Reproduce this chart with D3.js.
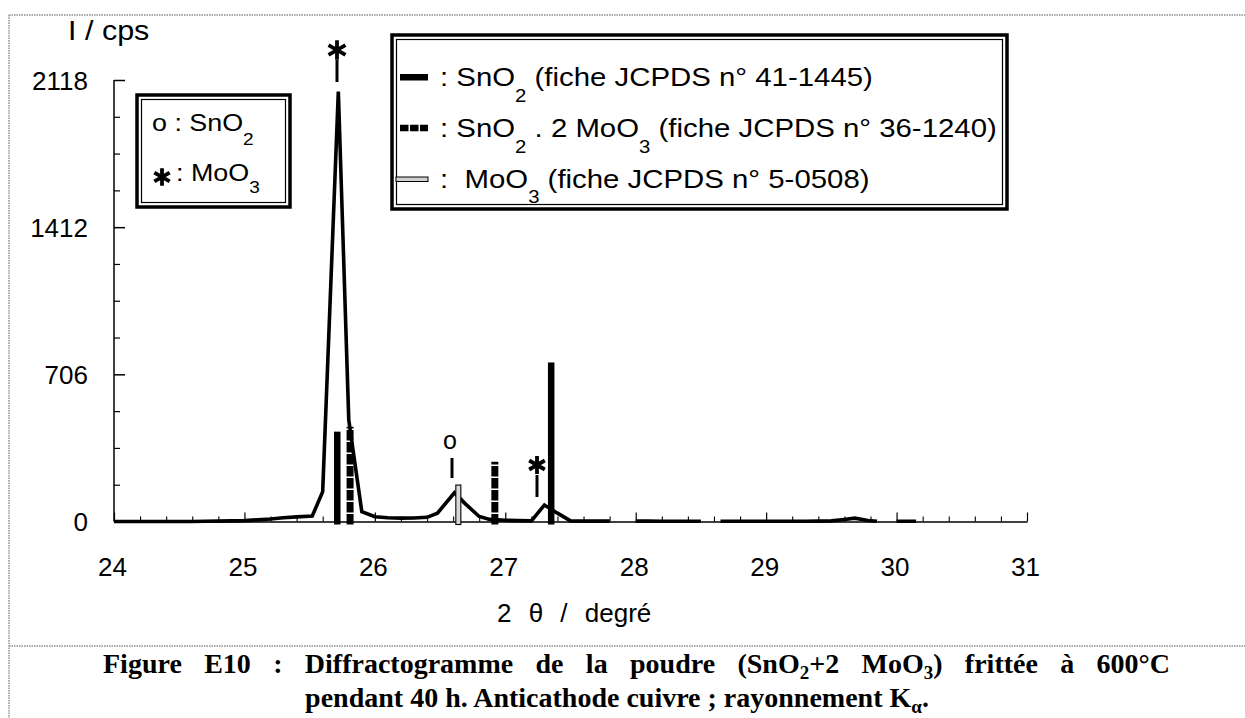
<!DOCTYPE html>
<html>
<head>
<meta charset="utf-8">
<script src="https://cdn.jsdelivr.net/npm/d3@7"></script>
<style>
html,body{margin:0;padding:0;background:#fff;}
svg{display:block;}
svg text{white-space:pre;}
</style>
</head>
<body>
<svg id="chart" width="1245" height="718"></svg>
<script>
// ---- data ----
const twoTheta = [24.0,24.1,24.2,24.3,24.4,24.5,24.6,24.7,24.8,24.9,25.0,25.1,25.2,25.3,25.4,25.52,25.6,25.72,25.8,25.9,26.0,26.1,26.2,26.3,26.4,26.48,26.61,26.69,26.8,26.88,27.0,27.1,27.2,27.3,27.4,27.5,27.6,27.7,27.8,27.9,28.0,28.1,28.2,28.3,28.4,28.5,28.6,28.65,28.8,28.9,29.0,29.1,29.2,29.3,29.4,29.5,29.6,29.68,29.78,29.85,29.9,30.0,30.1,30.15];
const intensity = [0,0,0,0,0,0,0,1,2,3,4,8,12,18,22,26,143,2063,487,47,23,18,16,17,20,40,138,87,24,10,6,4,3,79,40,3,2,2,2,null,2,2,1,1,1,1,null,1,1,1,1,1,1,1,2,3,10,16,5,1,null,1,1,1];

const snoPos = [25.71, 27.35], snoInt = [431, 763];          // SnO2 JCPDS 41-1445
const smPos  = [25.81, 26.92], smInt  = [455, 287];          // SnO2.2MoO3 JCPDS 36-1240
const mooPos = [26.64],        mooInt = [175];               // MoO3 JCPDS 5-0508

const yMajor = [0, 706, 1412, 2118];
const yMinor = [176.5, 353, 529.5, 882.5, 1059, 1235.5, 1588.5, 1765, 1941.5];
const xMajor = [24, 25, 26, 27, 28, 29, 30, 31];

// ---- layout ----
const svg = d3.select("#chart");
const x = d3.scaleLinear().domain([24, 31]).range([114, 1027]);
const y = d3.scaleLinear().domain([0, 2118]).range([521.5, 80]);
const SANS = "'Liberation Sans', Arial, sans-serif";
const SERIF = "'Liberation Serif', 'Times New Roman', serif";

// outer frame (dotted, scanned)
const frame = svg.append("g").attr("stroke", "#8a8a8a").attr("stroke-width", 1.4)
  .attr("stroke-dasharray", "1.5,1").attr("fill", "none");
frame.append("line").attr("x1", 9).attr("y1", 15).attr("x2", 1245).attr("y2", 15);
frame.append("line").attr("x1", 9).attr("y1", 15).attr("x2", 9).attr("y2", 718);
frame.append("line").attr("x1", 9).attr("y1", 646).attr("x2", 1245).attr("y2", 646);

// y axis
const yAxis = d3.axisLeft(y).tickValues(yMajor).tickSize(-11).tickPadding(26).tickFormat(d3.format("d"));
const gy = svg.append("g").attr("transform", "translate(114,0)").call(yAxis);
gy.select(".domain").attr("stroke-width", 1.5).attr("d", `M0,${y(2118)}V${y(0)}`);
gy.selectAll(".tick line").attr("stroke-width", 1.5);
gy.selectAll("text").attr("font-family", SANS).attr("font-size", 26).attr("fill", "#000").attr("dy", "0.36em");
const gy2 = svg.append("g").attr("transform", "translate(114,0)")
  .call(d3.axisLeft(y).tickValues(yMinor).tickSize(-6).tickFormat(""));
gy2.select(".domain").remove();
gy2.selectAll(".tick line").attr("stroke-width", 1.2);
gy2.selectAll(".tick text").remove();

// x axis
const xMinor = d3.range(24, 31.001, 0.2).filter(v => Math.abs(v - Math.round(v)) > 0.01);
const gx = svg.append("g").attr("transform", `translate(0,${y(0)})`)
  .call(d3.axisBottom(x).tickValues(xMajor).tickSize(-9).tickSizeOuter(0).tickPadding(36).tickFormat(d3.format("d")));
gx.select(".domain").attr("stroke-width", 1.5);
gx.selectAll(".tick line").attr("stroke-width", 1.2);
gx.selectAll("text").attr("font-family", SANS).attr("font-size", 26).attr("fill", "#000").attr("dx", "-2");
const gx2 = svg.append("g").attr("transform", `translate(0,${y(0)})`)
  .call(d3.axisBottom(x).tickValues(xMinor).tickSize(-5).tickFormat(""));
gx2.select(".domain").remove();
gx2.selectAll(".tick line").attr("stroke-width", 1.1);
gx2.selectAll(".tick text").remove();

// axis titles
svg.append("text").attr("transform", "translate(68,40) scale(1.09,1)")
  .attr("font-family", SANS).attr("font-size", 28).text("I / cps");
svg.append("text").attr("x", 497).attr("y", 622).attr("font-family", SANS).attr("font-size", 26)
  .attr("word-spacing", 10).text("2 θ / degré");

// diffractogram
const pts = twoTheta.map((t, i) => [t, intensity[i]]);
svg.append("path").datum(pts)
  .attr("fill", "none").attr("stroke", "#000").attr("stroke-width", 3.6).attr("stroke-linejoin", "miter")
  .attr("d", d3.line().defined(d => d[1] !== null).x(d => x(d[0])).y(d => y(d[1]))(pts));

// reference sticks
const base = y(0) + 3;
svg.append("g").selectAll("rect").data(snoPos).join("rect")
  .attr("x", d => x(d) - 3).attr("width", 6.5)
  .attr("y", (d, i) => y(snoInt[i])).attr("height", (d, i) => base - y(snoInt[i]))
  .attr("fill", "#000");
svg.append("g").selectAll("line").data(smPos).join("line")
  .attr("x1", d => x(d)).attr("x2", d => x(d))
  .attr("y1", base).attr("y2", (d, i) => y(smInt[i]))
  .attr("stroke", "#000").attr("stroke-width", 7).attr("stroke-dasharray", "10.5,1.5");
svg.append("g").selectAll("rect").data(mooPos).join("rect")
  .attr("x", d => x(d) - 2.5).attr("width", 5)
  .attr("y", (d, i) => y(mooInt[i])).attr("height", (d, i) => base - y(mooInt[i]))
  .attr("fill", "#d8d8d8").attr("stroke", "#000").attr("stroke-width", 1.1);

// peak markers
function starAt(cx, cy, s) {
  svg.append("path").attr("d", d3.symbol().type(d3.symbolAsterisk).size(s || 270)())
    .attr("transform", `translate(${cx},${cy})`).attr("stroke", "#000").attr("stroke-width", 3.8).attr("fill", "none");
}
function tick(cx, y1, y2) {
  svg.append("line").attr("x1", cx).attr("x2", cx).attr("y1", y1).attr("y2", y2)
    .attr("stroke", "#000").attr("stroke-width", 3);
}
starAt(337, 50); tick(337, 60, 82);
starAt(537, 465, 230); tick(537, 475, 497);
svg.append("text").attr("x", 450).attr("y", 449).attr("text-anchor", "middle")
  .attr("font-family", SANS).attr("font-size", 25).text("o");
tick(452, 458, 478);

// legend helpers
function box(x0, y0, x1, y1) {
  const g = svg.append("g").attr("fill", "#fff");
  g.append("rect").attr("x", x0).attr("y", y0).attr("width", x1 - x0).attr("height", y1 - y0)
    .attr("stroke", "#000").attr("stroke-width", 3.5);
  g.append("rect").attr("x", x0 + 4.5).attr("y", y0 + 4.5).attr("width", x1 - x0 - 9).attr("height", y1 - y0 - 9)
    .attr("stroke", "#000").attr("stroke-width", 1.2).attr("fill", "none");
}
function rich(xp, yp, parts, o) {
  o = o || {};
  const t = svg.append("text").attr("transform", `translate(${xp},${yp}) scale(${o.sx || 1},1)`)
    .attr("font-family", o.family || SANS).attr("font-size", o.size || 24).attr("font-weight", o.weight || "normal");
  if (o.anchor) t.attr("text-anchor", o.anchor);
  let pending = 0;
  parts.forEach(p => {
    const ts = t.append("tspan").text(p.t);
    if (p.sub) {
      ts.attr("dy", p.drop + pending).attr("font-size", p.size);
      pending = -p.drop;
    } else {
      if (pending) ts.attr("dy", pending);
      pending = 0;
    }
  });
  return t;
}

// left legend
box(137, 95, 290, 207);
rich(152, 131, [{t: "o : SnO"}, {t: "2", sub: true, drop: 14, size: 17}], {size: 24, sx: 1.12});
starAt(162, 177, 220);
rich(176, 181, [{t: ": MoO"}, {t: "3", sub: true, drop: 12, size: 17}], {size: 24, sx: 1.12});

// right legend
box(392, 35, 1007, 209);
svg.append("rect").attr("x", 400).attr("y", 74).attr("width", 28).attr("height", 6.5).attr("fill", "#000");
svg.append("line").attr("x1", 400).attr("x2", 428).attr("y1", 128).attr("y2", 128)
  .attr("stroke", "#000").attr("stroke-width", 6.5).attr("stroke-dasharray", "8.5,1.5");
svg.append("rect").attr("x", 396).attr("y", 177).attr("width", 32).attr("height", 4.5)
  .attr("fill", "#d0d0d0").attr("stroke", "#000").attr("stroke-width", 1);
const RL = {size: 26, sx: 1.13};
rich(440, 86, [{t: ": SnO"}, {t: "2", sub: true, drop: 16, size: 18}, {t: " (fiche JCPDS n° 41-1445)"}], RL);
rich(440, 137, [{t: ": SnO"}, {t: "2", sub: true, drop: 16, size: 18}, {t: " . 2 MoO"}, {t: "3", sub: true, drop: 16, size: 18}, {t: " (fiche JCPDS n° 36-1240)"}], RL);
rich(440, 188, [{t: ":  MoO"}, {t: "3", sub: true, drop: 15, size: 18}, {t: " (fiche JCPDS n° 5-0508)"}], RL);

// caption (justified first line, centred second line)
function fitWords(t, target, str) {
  const w = t.node().getComputedTextLength();
  const n = (str.match(/ /g) || []).length;
  t.attr("word-spacing", (target - w) / n);
}
const cap = {size: 28, family: SERIF, weight: "bold"};
const c1parts = [{t: "Figure E10 : Diffractogramme de la poudre (SnO"}, {t: "2", sub: true, drop: 6, size: 19},
  {t: "+2 MoO"}, {t: "3", sub: true, drop: 6, size: 19}, {t: ") frittée à 600°C"}];
const c1 = rich(103, 673, c1parts, cap);
fitWords(c1, 1067, c1parts.map(p => p.t).join(""));
const c2parts = [{t: "pendant 40 h. Anticathode cuivre ; rayonnement K"}, {t: "α", sub: true, drop: 6, size: 19}, {t: "."}];
rich(617, 707, c2parts, Object.assign({anchor: "middle"}, cap));
</script>
</body>
</html>
